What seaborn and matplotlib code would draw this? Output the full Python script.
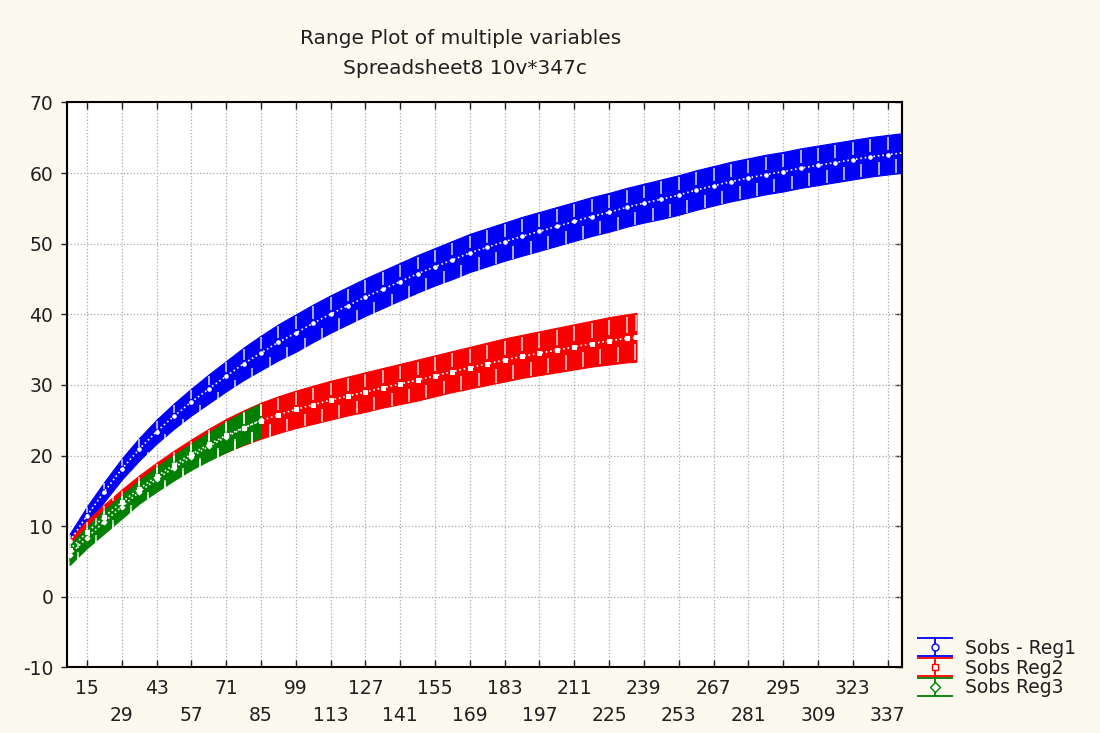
import numpy as np
import pandas as pd
import matplotlib
matplotlib.use('Agg')
import matplotlib.pyplot as plt
import seaborn as sns

cases_reg1 = list(range(8, 345, 7))
cases_reg2 = list(range(8, 233, 7)) + [236]
cases_reg3 = list(range(8, 86, 7))

# upper / lower ends of the ranges
reg1_hi = [8.9, 12.8, 16.3, 19.6, 22.5, 25.1, 27.4, 29.5, 31.5, 33.4, 35.3, 37.0,
           38.6, 40.0, 41.4, 42.7, 43.9, 45.1, 46.2, 47.3, 48.4, 49.4, 50.4, 51.4,
           52.2, 53.0, 53.8, 54.5, 55.2, 55.9, 56.6, 57.2, 57.9, 58.5, 59.1, 59.7,
           60.4, 61.0, 61.6, 62.1, 62.6, 63.0, 63.5, 63.9, 64.3, 64.7, 65.1, 65.4, 65.7]
reg1_lo = [6.8, 10.2, 13.5, 16.6, 19.3, 21.7, 23.8, 25.7, 27.4, 29.1, 30.7, 32.1,
           33.5, 34.7, 36.1, 37.4, 38.6, 39.8, 40.9, 42.0, 43.1, 44.1, 45.0, 46.0,
           46.8, 47.6, 48.3, 49.0, 49.7, 50.4, 51.1, 51.7, 52.4, 53.0, 53.5, 54.1,
           54.8, 55.4, 56.0, 56.5, 57.0, 57.4, 57.9, 58.3, 58.7, 59.1, 59.5, 59.8, 60.1]

reg2_hi = [8.2, 10.8, 13.1, 15.2, 17.2, 19.0, 20.7, 22.3, 23.8, 25.2, 26.4, 27.5,
           28.4, 29.2, 29.9, 30.6, 31.2, 31.8, 32.4, 33.0, 33.6, 34.2, 34.8, 35.4,
           36.0, 36.6, 37.1, 37.6, 38.1, 38.6, 39.1, 39.6, 40.0, 40.2]
reg2_lo = [5.2, 7.5, 9.6, 11.6, 13.4, 15.1, 16.7, 18.1, 19.4, 20.5, 21.5, 22.4,
           23.2, 23.9, 24.5, 25.1, 25.7, 26.2, 26.8, 27.3, 27.8, 28.4, 29.0, 29.5,
           30.0, 30.5, 31.0, 31.4, 31.8, 32.2, 32.6, 32.9, 33.2, 33.3]

reg3_hi = [7.4, 9.9, 12.3, 14.4, 16.5, 18.4, 20.1, 21.7, 23.3, 24.8, 26.2, 27.4]
reg3_lo = [4.5, 6.9, 9.0, 11.1, 13.2, 14.9, 16.5, 18.0, 19.3, 20.5, 21.6, 22.6]

labels = ['Sobs - Reg1', 'Sobs Reg2', 'Sobs Reg3']
colors = ['#0000f8', '#f80000', '#008000']
markers = ['o', 's', 'D']

xticks_top = list(range(15, 338, 28))
xticks_low = list(range(29, 338, 28))

sns.set_style('white')
plt.rcParams['font.family'] = ['DejaVu Sans']
plt.rcParams['axes.unicode_minus'] = False

bg = '#fcfaee'
txt = '#202020'
fig = plt.figure(figsize=(11, 7.33), dpi=100, facecolor=bg)
ax = fig.add_axes([0.061, 0.0894, 0.759, 0.7708])
ax.set_facecolor('white')

series = [
    (cases_reg1, reg1_lo, reg1_hi),
    (cases_reg2, reg2_lo, reg2_hi),
    (cases_reg3, reg3_lo, reg3_hi),
]

for (cs, lo, hi), lab, col, mk in zip(series, labels, colors, markers):
    df = pd.DataFrame({'case': cs, 'lo': lo, 'hi': hi})
    df['mid'] = (df['lo'] + df['hi']) / 2
    w = df['hi'] - df['lo']
    ax.fill_between(df['case'], df['lo'], df['hi'], color=col, linewidth=0.8,
                    edgecolor=col, zorder=2)
    # white whisker strokes inside the band
    ax.vlines(df['case'], df['mid'] + 0.12 * w, df['hi'] - 0.05 * w, color='white',
              linewidth=1.1, alpha=0.85, zorder=3)
    ax.vlines(df['case'] + 3.5, df['lo'] + 0.05 * w, df['mid'] - 0.12 * w, color='white',
              linewidth=1.1, alpha=0.85, zorder=3)
    sns.lineplot(data=df, x='case', y='mid', ax=ax, color='white', linestyle=':',
                 linewidth=1.2, marker=mk, markersize=2.5, markerfacecolor='white',
                 markeredgecolor='white', zorder=4)

ax.set_xlim(7, 342.8)
ax.set_ylim(-10, 70)
ax.set_yticks(range(-10, 71, 10))
ax.set_xticks(xticks_top)
ax.set_xticks(xticks_low, minor=True)
ax.set_xticklabels([str(v) for v in xticks_top])
ax.set_xticklabels([str(v) for v in xticks_low], minor=True)
ax.set_xlabel('')
ax.set_ylabel('')

ax.grid(True, which='both', axis='both', color='#a8a8a8', linestyle=':', linewidth=0.9, zorder=0)
ax.set_axisbelow(True)

ax.tick_params(axis='x', which='major', direction='in', top=True, bottom=True,
               length=5, width=1, pad=8, labelsize=13.5, colors=txt)
ax.tick_params(axis='x', which='minor', direction='in', top=True, bottom=True,
               length=5, width=1, pad=27.5, labelsize=13.5, colors=txt)
ax.tick_params(axis='y', direction='out', left=True, length=4, width=1, pad=6,
               labelsize=13.5, colors=txt)
sec = ax.secondary_yaxis('right')
sec.set_yticks(range(-10, 71, 10))
sec.tick_params(direction='in', length=5, width=1, labelright=False)

for side in ['left', 'right', 'top', 'bottom']:
    ax.spines[side].set_color('black')
    ax.spines[side].set_linewidth(1.5)
sec.spines['right'].set_linewidth(1.5)

fig.text(0.419, 1 - 38 / 733, 'Range Plot of multiple variables', ha='center', va='center',
         fontsize=14.5, color=txt)
fig.text(0.423, 1 - 68 / 733, 'Spreadsheet8 10v*347c', ha='center', va='center',
         fontsize=14.5, color=txt)

handles = []
for col, mk in zip(colors, markers):
    h = ax.errorbar([np.nan], [np.nan], yerr=[[1], [1]], color=col, linestyle='none',
                    marker=mk, markersize=5, markerfacecolor='white', markeredgecolor=col,
                    capsize=13, elinewidth=1.3, capthick=1.3)
    handles.append(h)
fig.legend(handles, labels, loc='center left', bbox_to_anchor=(909 / 1100, 1 - 668 / 733),
           frameon=False, fontsize=13.5, labelspacing=0.05, handlelength=2.0,
           handletextpad=0.6, borderaxespad=0, labelcolor=txt)

fig.savefig('out.png', dpi=100, facecolor=bg)
